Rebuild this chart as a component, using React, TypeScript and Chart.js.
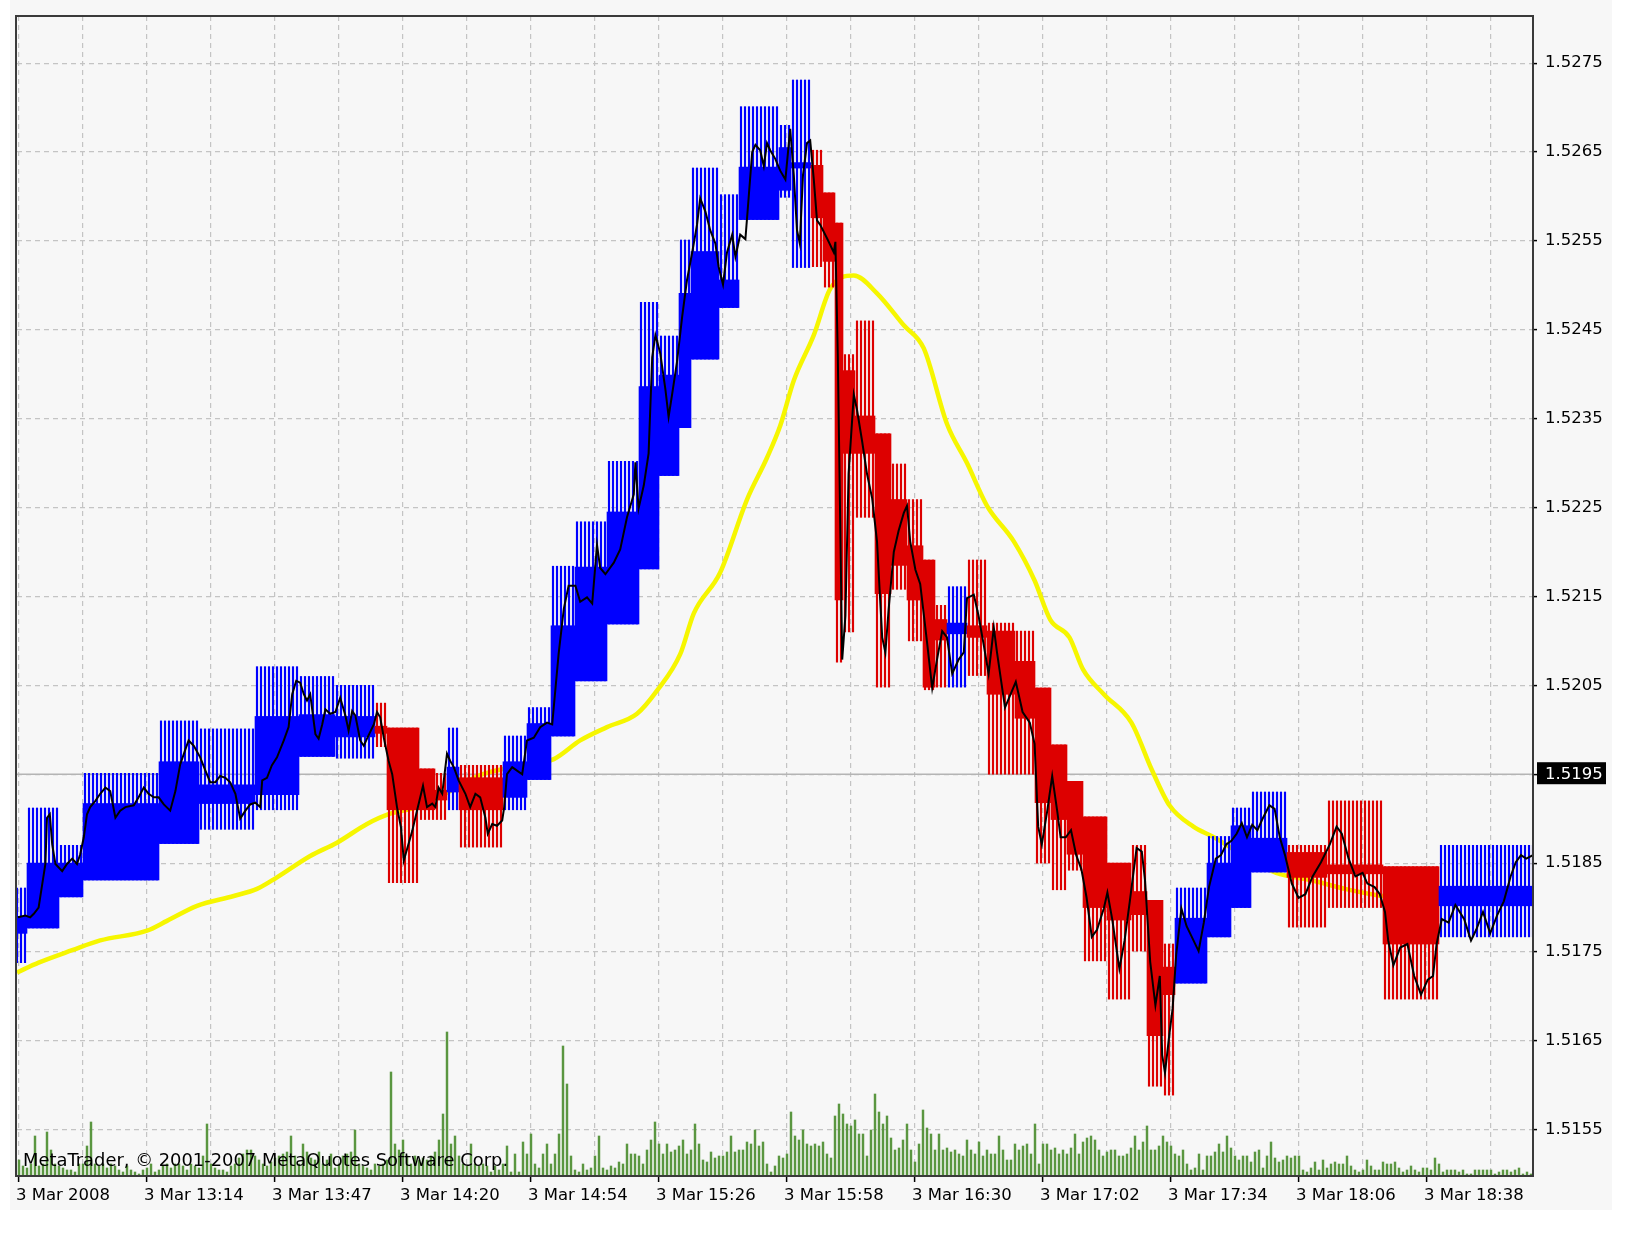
import React, { useEffect, useRef } from 'react';
import { Chart, registerables } from 'chart.js';

Chart.register(...registerables);

// ---------- axis / label data ----------
const X_LABELS = ['3 Mar 2008', '3 Mar 13:14', '3 Mar 13:47', '3 Mar 14:20', '3 Mar 14:54', '3 Mar 15:26',
  '3 Mar 15:58', '3 Mar 16:30', '3 Mar 17:02', '3 Mar 17:34', '3 Mar 18:06', '3 Mar 18:38'];
const X_LABEL_EVERY = 32; // bars between time labels
const X_GRID_EVERY = 16;  // bars between vertical grid lines
const BAR_COUNT = 379;
const Y_TICKS = [1.5155, 1.5165, 1.5175, 1.5185, 1.5195, 1.5205, 1.5215, 1.5225, 1.5235, 1.5245, 1.5255, 1.5265, 1.5275];
const Y_MIN = 1.51498;
const Y_MAX = 1.52803;
const BID = 1.5195;
const WATERMARK = 'MetaTrader, \u00A9 2001-2007 MetaQuotes Software Corp.';

// ---------- higher-timeframe boxes (bar range, open, close, high, low) ----------
const BOX_FROM = [-1, 2, 10, 16, 35, 45, 59, 70, 79, 89, 92, 100, 104, 107, 110, 121, 127, 133, 139, 147, 155, 160, 165, 168, 175, 180, 190, 193, 198, 201, 204, 206, 209, 214, 218, 222, 226, 229, 232, 237, 242, 249, 254, 258, 262, 266, 272, 278, 282, 286, 289, 297, 303, 308, 317, 327, 341, 355];
const BOX_TO = [2, 10, 16, 35, 45, 59, 70, 79, 89, 92, 100, 104, 107, 110, 121, 127, 133, 139, 147, 155, 160, 165, 168, 175, 180, 190, 193, 198, 201, 204, 206, 209, 214, 218, 222, 226, 229, 232, 237, 242, 249, 254, 258, 262, 266, 272, 278, 282, 286, 289, 297, 303, 308, 317, 327, 341, 355, 379];
const BOX_OPEN = [1.51771, 1.51777, 1.51812, 1.51831, 1.51872, 1.51917, 1.51927, 1.51970, 1.51992, 1.52004, 1.52002, 1.51956, 1.51932, 1.51930, 1.51946, 1.51924, 1.51944, 1.51993, 1.52055, 1.52119, 1.52181, 1.52286, 1.52340, 1.52417, 1.52475, 1.52574, 1.52607, 1.52632, 1.52635, 1.52604, 1.52570, 1.52404, 1.52353, 1.52333, 1.52259, 1.52207, 1.52191, 1.52124, 1.52108, 1.52117, 1.52111, 1.52077, 1.52047, 1.51983, 1.51942, 1.51902, 1.51850, 1.51818, 1.51808, 1.51733, 1.51715, 1.51767, 1.51800, 1.51840, 1.51862, 1.51848, 1.51846, 1.51802];
const BOX_CLOSE = [1.51790, 1.51850, 1.51850, 1.51917, 1.51964, 1.51938, 1.52015, 1.52017, 1.52015, 1.51996, 1.51910, 1.51910, 1.51921, 1.51958, 1.51910, 1.51964, 1.52007, 1.52117, 1.52183, 1.52245, 1.52386, 1.52399, 1.52491, 1.52538, 1.52506, 1.52633, 1.52655, 1.52638, 1.52576, 1.52527, 1.52146, 1.52311, 1.52311, 1.52153, 1.52185, 1.52146, 1.52048, 1.52101, 1.52120, 1.52104, 1.52040, 1.52013, 1.51918, 1.51899, 1.51860, 1.51800, 1.51786, 1.51792, 1.51656, 1.51702, 1.51788, 1.51850, 1.51892, 1.51878, 1.51834, 1.51838, 1.51759, 1.51824];
const BOX_HIGH = [1.51822, 1.51912, 1.51870, 1.51951, 1.52010, 1.52001, 1.52071, 1.52060, 1.52050, 1.52030, 1.52002, 1.51956, 1.51951, 1.52002, 1.51960, 1.51993, 1.52025, 1.52184, 1.52234, 1.52302, 1.52481, 1.52443, 1.52551, 1.52632, 1.52602, 1.52701, 1.52680, 1.52731, 1.52652, 1.52604, 1.52570, 1.52422, 1.52460, 1.52333, 1.52299, 1.52259, 1.52191, 1.52140, 1.52161, 1.52191, 1.52120, 1.52111, 1.52047, 1.51983, 1.51942, 1.51902, 1.51850, 1.51870, 1.51808, 1.51759, 1.51822, 1.51880, 1.51912, 1.51930, 1.51870, 1.51920, 1.51846, 1.51870];
const BOX_LOW = [1.51738, 1.51777, 1.51812, 1.51831, 1.51872, 1.51888, 1.51910, 1.51970, 1.51968, 1.51981, 1.51828, 1.51899, 1.51899, 1.51910, 1.51868, 1.51910, 1.51944, 1.51993, 1.52055, 1.52119, 1.52181, 1.52286, 1.52340, 1.52417, 1.52475, 1.52574, 1.52599, 1.52520, 1.52521, 1.52498, 1.52076, 1.52110, 1.52239, 1.52048, 1.52158, 1.52100, 1.52045, 1.52048, 1.52048, 1.52061, 1.51950, 1.51950, 1.51850, 1.51820, 1.51842, 1.51740, 1.51697, 1.51751, 1.51599, 1.51589, 1.51715, 1.51767, 1.51800, 1.51840, 1.51778, 1.51800, 1.51697, 1.51767];

// ---------- close price line (bar position, price) ----------
const CLOSE_BAR = [-0.3, 1.6, 2.8, 3.7, 4.9, 5.8, 6.6, 7.0, 7.7, 8.3, 9.1, 10.8, 12.0, 13.3, 14.5, 15.3, 16.2, 17.0, 17.8, 19.1, 20.3, 21.6, 22.8, 24.1, 25.3, 26.6, 28.7, 29.9, 31.2, 32.4, 33.7, 34.9, 36.2, 37.8, 39.1, 40.3, 41.6, 42.4, 43.7, 45.3, 46.6, 47.8, 49.1, 50.3, 51.6, 52.8, 54.1, 55.3, 56.6, 57.8, 59.1, 60.3, 60.8, 62.0, 63.2, 64.5, 66.2, 67.4, 68.3, 69.3, 70.3, 71.2, 72.0, 72.8, 74.1, 74.9, 75.8, 76.6, 77.8, 79.1, 80.3, 81.6, 82.4, 83.3, 84.1, 85.3, 86.2, 87.0, 88.7, 89.5, 90.3, 91.2, 92.4, 93.3, 94.5, 95.5, 96.2, 98.3, 99.5, 101.0, 102.0, 103.3, 104.1, 104.9, 105.8, 107.0, 107.8, 108.7, 109.9, 111.6, 112.8, 114.1, 115.3, 116.6, 117.2, 118.3, 119.5, 120.8, 121.3, 122.0, 123.3, 124.5, 125.8, 127.0, 128.7, 130.3, 132.0, 133.3, 134.9, 136.2, 137.4, 139.1, 140.3, 142.0, 143.3, 144.5, 145.3, 146.6, 148.7, 150.3, 152.0, 153.7, 154.1, 154.9, 156.2, 157.4, 158.3, 159.1, 160.3, 161.6, 162.4, 163.3, 164.5, 165.8, 167.0, 168.3, 169.5, 170.3, 171.6, 172.8, 174.1, 174.9, 176.0, 177.0, 178.3, 179.1, 180.3, 181.6, 182.4, 183.3, 184.1, 185.3, 186.2, 187.0, 187.8, 189.1, 190.3, 191.6, 192.8, 193.7, 194.5, 195.2, 196.0, 197.0, 197.8, 198.7, 199.5, 200.3, 202.0, 203.7, 204.1, 204.7, 205.8, 206.6, 207.4, 208.7, 209.5, 210.8, 212.0, 213.3, 214.5, 215.8, 216.6, 217.4, 218.7, 219.9, 221.2, 222.0, 222.8, 224.1, 225.3, 227.0, 228.3, 229.5, 230.8, 232.0, 233.3, 234.9, 236.2, 237.0, 238.7, 239.9, 241.2, 242.4, 243.7, 244.5, 246.5, 249.2, 250.9, 252.7, 253.9, 254.8, 255.7, 257.0, 258.3, 259.6, 260.4, 261.7, 263.0, 264.3, 265.6, 266.9, 268.2, 269.5, 271.2, 272.1, 273.3, 275.1, 276.4, 277.7, 279.4, 280.7, 281.5, 282.8, 284.1, 285.2, 285.8, 286.5, 287.6, 288.4, 289.3, 290.6, 291.9, 293.2, 294.9, 296.2, 297.5, 299.2, 300.5, 301.8, 303.1, 304.4, 305.7, 307.0, 308.3, 309.6, 310.8, 312.6, 313.9, 315.2, 316.5, 318.2, 319.9, 321.6, 323.4, 325.5, 327.7, 329.4, 330.7, 332.4, 334.1, 335.9, 337.1, 338.9, 340.2, 341.5, 342.3, 343.6, 345.3, 347.1, 348.8, 350.5, 352.2, 353.5, 354.4, 355.7, 357.4, 359.1, 361.3, 363.0, 364.3, 366.0, 367.8, 369.5, 371.2, 372.9, 374.2, 375.5, 376.8, 378.5];
const CLOSE_PRICE = [1.51789, 1.51791, 1.51789, 1.51793, 1.51800, 1.51826, 1.51849, 1.51901, 1.51905, 1.51871, 1.51849, 1.51841, 1.51849, 1.51855, 1.51849, 1.51860, 1.51879, 1.51905, 1.51913, 1.51920, 1.51928, 1.51935, 1.51931, 1.51901, 1.51909, 1.51913, 1.51915, 1.51924, 1.51935, 1.51928, 1.51924, 1.51924, 1.51916, 1.51909, 1.51931, 1.51961, 1.51978, 1.51988, 1.51982, 1.51969, 1.51954, 1.51941, 1.51941, 1.51948, 1.51946, 1.51941, 1.51928, 1.51900, 1.51909, 1.51916, 1.51918, 1.51913, 1.51943, 1.51946, 1.51960, 1.51969, 1.51988, 1.52003, 1.52040, 1.52055, 1.52053, 1.52040, 1.52033, 1.52040, 1.51995, 1.51990, 1.52006, 1.52023, 1.52018, 1.52020, 1.52036, 1.52016, 1.51999, 1.52021, 1.52016, 1.51988, 1.51982, 1.51990, 1.52006, 1.52020, 1.52014, 1.51991, 1.51965, 1.51950, 1.51913, 1.51890, 1.51853, 1.51886, 1.51909, 1.51937, 1.51913, 1.51917, 1.51913, 1.51935, 1.51928, 1.51973, 1.51965, 1.51958, 1.51943, 1.51928, 1.51913, 1.51928, 1.51924, 1.51901, 1.51883, 1.51894, 1.51892, 1.51898, 1.51913, 1.51950, 1.51958, 1.51954, 1.51950, 1.51988, 1.51991, 1.52003, 1.52008, 1.52006, 1.52085, 1.52136, 1.52162, 1.52162, 1.52144, 1.52149, 1.52142, 1.52208, 1.52182, 1.52175, 1.52188, 1.52203, 1.52239, 1.52265, 1.52301, 1.52249, 1.52275, 1.52311, 1.52419, 1.52444, 1.52424, 1.52383, 1.52352, 1.52378, 1.52414, 1.52465, 1.52506, 1.52537, 1.52568, 1.52598, 1.52583, 1.52562, 1.52547, 1.52521, 1.52501, 1.52537, 1.52557, 1.52532, 1.52557, 1.52552, 1.52598, 1.52650, 1.52658, 1.52652, 1.52634, 1.52660, 1.52652, 1.52642, 1.52629, 1.52619, 1.52676, 1.52624, 1.52562, 1.52547, 1.52624, 1.52660, 1.52663, 1.52619, 1.52573, 1.52568, 1.52553, 1.52537, 1.52549, 1.52421, 1.52079, 1.52128, 1.52288, 1.52377, 1.52360, 1.52324, 1.52288, 1.52260, 1.52212, 1.52104, 1.52087, 1.52135, 1.52200, 1.52224, 1.52244, 1.52252, 1.52212, 1.52180, 1.52164, 1.52099, 1.52047, 1.52079, 1.52111, 1.52104, 1.52063, 1.52079, 1.52087, 1.52148, 1.52152, 1.52128, 1.52095, 1.52063, 1.52115, 1.52087, 1.52025, 1.52054, 1.52020, 1.52008, 1.51984, 1.51891, 1.51871, 1.51907, 1.51948, 1.51907, 1.51879, 1.51879, 1.51887, 1.51859, 1.51843, 1.51811, 1.51767, 1.51775, 1.51799, 1.51817, 1.51787, 1.51731, 1.51763, 1.51807, 1.51867, 1.51863, 1.51831, 1.51739, 1.51690, 1.51723, 1.51634, 1.51614, 1.51658, 1.51686, 1.51747, 1.51799, 1.51779, 1.51767, 1.51751, 1.51783, 1.51823, 1.51855, 1.51859, 1.51871, 1.51875, 1.51883, 1.51895, 1.51879, 1.51893, 1.51887, 1.51899, 1.51915, 1.51911, 1.51879, 1.51859, 1.51827, 1.51811, 1.51815, 1.51835, 1.51851, 1.51871, 1.51891, 1.51883, 1.51855, 1.51835, 1.51839, 1.51827, 1.51823, 1.51815, 1.51795, 1.51763, 1.51735, 1.51755, 1.51759, 1.51723, 1.51702, 1.51719, 1.51723, 1.51759, 1.51787, 1.51783, 1.51803, 1.51787, 1.51763, 1.51775, 1.51795, 1.51771, 1.51791, 1.51807, 1.51835, 1.51851, 1.51859, 1.51855, 1.51859];

// ---------- moving average (bar position, price) ----------
const MA_BAR = [-0.5, 4.9, 13.3, 20.3, 32.0, 37.0, 44.5, 53.7, 59.5, 64.5, 72.8, 79.5, 87.0, 92.4, 99.5, 107.8, 115.3, 121.1, 133.7, 140.3, 147.0, 154.5, 159.5, 165.3, 168.7, 175.3, 182.0, 187.0, 190.3, 193.7, 198.7, 202.8, 208.7, 214.5, 221.2, 226.2, 232.0, 237.0, 242.0, 248.7, 253.9, 257.8, 262.6, 266.0, 271.2, 278.1, 283.2, 287.6, 293.6, 298.8, 306.3, 314.3, 322.9, 331.5, 341.0, 355.3, 378.5];
const MA_PRICE = [1.51727, 1.51738, 1.51752, 1.51763, 1.51774, 1.51785, 1.51802, 1.51813, 1.51821, 1.51834, 1.51858, 1.51873, 1.51894, 1.51905, 1.51913, 1.51931, 1.51949, 1.51956, 1.51967, 1.51988, 1.52003, 1.52018, 1.52044, 1.52085, 1.52131, 1.52177, 1.52259, 1.52306, 1.52342, 1.52393, 1.52444, 1.52496, 1.52511, 1.52491, 1.52455, 1.52429, 1.52344, 1.52300, 1.52252, 1.52212, 1.52168, 1.52124, 1.52104, 1.52068, 1.52040, 1.52008, 1.51955, 1.51915, 1.51891, 1.51879, 1.51858, 1.51839, 1.51831, 1.51821, 1.51813, 1.51810, 1.51812];

// ---------- tick volume per bar ----------
const VOLUME = [
  8, 5, 4, 6, 20, 5, 6, 22, 13, 6, 5, 4, 3,
  3, 2, 6, 6, 15, 27, 6, 5, 6, 4, 6, 5, 3, 2, 5, 3, 2, 1, 3, 4, 6, 2, 3, 5, 6, 4, 6, 6, 5, 3, 6, 5, 4,
  10, 26, 6, 4, 3, 3, 2, 5, 6, 9, 11, 13, 13, 10, 8, 6, 5, 7, 9, 10, 11, 12, 20, 10, 6, 16, 12, 9, 8, 12, 6, 8, 11, 4, 6, 10, 11, 12, 23, 6, 5, 4,
  3, 6, 5, 6, 8, 52, 16, 13, 18, 10, 6, 10, 8, 9, 8, 10, 12, 18, 31, 72, 16, 20, 10, 6, 5, 16, 6, 5, 6, 5, 2, 5, 3, 6, 15, 2, 11, 2, 17, 11, 21, 6, 4, 11, 16, 6, 11, 21, 65, 46, 10, 3, 2, 6, 3, 4, 10, 20,
  4, 3, 5, 4, 7, 6, 16, 11, 11,
  10, 6, 13, 18, 27, 16, 11, 16, 12, 13,
  15, 18, 11, 13, 26, 16, 8, 7, 12, 9,
  10, 10, 12, 20, 12, 13, 13, 17, 16, 23,
  15, 17, 6, 2, 5, 10, 9, 11, 32, 20,
  18, 23, 16, 15, 16, 15, 17, 11, 9, 30,
  36, 31, 26, 25, 28, 21, 21, 10, 23, 41,
  32, 26, 30, 19, 13, 14, 18, 26, 13, 7,
  16, 33, 24, 21, 13, 21, 13, 14, 12, 13,
  11, 10, 18, 13, 11, 17, 10, 13, 11, 11,
  20, 13, 8, 8, 16, 13, 15, 16, 11, 26,
  6, 16, 16, 13, 14, 11, 13, 11, 14, 21,
  11, 17, 19, 20, 18, 13, 10, 12, 13, 13,
  10, 10, 11, 14, 20, 13, 17, 25, 13, 13,
  15, 20, 17, 15, 11, 10, 13, 6, 3, 4,
  11, 3, 10, 10, 12, 16, 12, 20, 14, 10,
  8, 10, 10, 7, 12, 13, 4, 10, 17, 9,
  7, 8, 10, 9, 10, 10, 3, 2, 4, 7,
  3, 8, 4, 6, 7, 6, 6, 10, 5, 3,
  2, 3, 8, 5, 3, 3, 7, 6, 6, 7,
  4, 2, 3, 5, 3, 2, 4, 4, 3, 9,
  6, 2, 3, 3, 3, 2, 3, 1, 1, 3,
  3, 3, 3, 3, 1, 2, 3, 3, 2, 3,
  4, 1, 2, 1,
];
const VOLUME_AXIS_MAX = 580;

// ---------- styling ----------
const BLUE = '#0000ff';
const RED = '#dd0000';
const YELLOW = '#f6f600';
const GREEN = '#5a9640';
const GRID = '#c4c4c4';
const FONT = '"DejaVu Sans", sans-serif';

export default function App() {
  const ref = useRef<HTMLCanvasElement>(null);

  useEffect(() => {
    document.body.style.margin = '0';
    document.body.style.background = '#ffffff';
    const canvas = ref.current;
    if (!canvas) return;

    const hatch: any[] = [];
    const body: any[] = [];
    BOX_FROM.forEach((from, i) => {
      const o = BOX_OPEN[i];
      const c = BOX_CLOSE[i];
      const up = c >= o;
      for (let k = from; k < BOX_TO[i]; k++) {
        hatch.push({ x: k + 0.5, y: [BOX_LOW[i], BOX_HIGH[i]], up });
        body.push({ x: k + 0.5, y: [Math.min(o, c), Math.max(o, c)], up });
      }
    });
    const closeData = CLOSE_BAR.map((b, i) => ({ x: b, y: CLOSE_PRICE[i] }));
    const maData = MA_BAR.map((b, i) => ({ x: b, y: MA_PRICE[i] }));
    const volData = VOLUME.map((v, i) => ({ x: i, y: v }));
    const xTicks: number[] = [];
    for (let v = 0; v < BAR_COUNT; v += X_GRID_EVERY) xTicks.push(v);

    const colorOf = (ctx: any) => (ctx.raw && ctx.raw.up ? BLUE : RED);

    const decor = {
      id: 'decor',
      beforeDraw(chart: any) {
        const { ctx } = chart;
        ctx.save();
        ctx.fillStyle = '#ffffff';
        ctx.fillRect(0, 0, chart.width, chart.height);
        ctx.fillStyle = '#f7f7f7';
        ctx.fillRect(10, 0, 1602, 1210);
        ctx.restore();
      },
      afterDatasetsDraw(chart: any) {
        const { ctx, chartArea } = chart;
        ctx.save();
        ctx.font = `17.9px ${FONT}`;
        ctx.fillStyle = '#000000';
        ctx.textBaseline = 'alphabetic';
        ctx.textAlign = 'left';
        ctx.fillText(WATERMARK, chartArea.left + 6, chartArea.bottom - 10);
        ctx.restore();
      },
      afterDraw(chart: any) {
        const { ctx, chartArea: a, scales } = chart;
        ctx.save();
        ctx.strokeStyle = '#3a3a3a';
        ctx.lineWidth = 2;
        ctx.strokeRect(a.left - 1, a.top, a.right - a.left + 1, a.bottom - a.top);
        const y = scales.y.getPixelForValue(BID);
        ctx.fillStyle = '#000000';
        ctx.fillRect(a.right + 4, y - 12, 69, 22);
        ctx.fillStyle = '#ffffff';
        ctx.font = `16.5px ${FONT}`;
        ctx.textBaseline = 'middle';
        ctx.textAlign = 'left';
        ctx.fillText(BID.toFixed(4), a.right + 12, y);
        ctx.restore();
      },
    };

    const chart = new Chart(canvas, {
      type: 'bar',
      data: {
        datasets: [
          { type: 'line', label: 'Close', data: closeData, xAxisID: 'x', yAxisID: 'y', borderColor: '#000000', borderWidth: 2, pointRadius: 0, tension: 0, order: 0 },
          { type: 'bar', label: 'Body', data: body, xAxisID: 'x', yAxisID: 'y', backgroundColor: colorOf, borderWidth: 0, barThickness: 4, grouped: false, order: 1 },
          { type: 'bar', label: 'Range', data: hatch, xAxisID: 'x', yAxisID: 'y', backgroundColor: colorOf, borderWidth: 0, barThickness: 1.5, grouped: false, order: 2 },
          { type: 'line', label: 'MA', data: maData, xAxisID: 'x', yAxisID: 'y', borderColor: YELLOW, borderWidth: 4.5, pointRadius: 0, cubicInterpolationMode: 'monotone', order: 3 },
          { type: 'line', label: 'Bid', data: [{ x: -0.5, y: BID }, { x: BAR_COUNT - 0.5, y: BID }], xAxisID: 'x', yAxisID: 'y', borderColor: '#b4b4b4', borderWidth: 1.6, pointRadius: 0, order: 4 },
          { type: 'bar', label: 'Volume', data: volData, xAxisID: 'x', yAxisID: 'yVol', backgroundColor: GREEN, borderWidth: 0, barThickness: 1.8, grouped: false, order: 5 },
        ] as any,
      },
      options: {
        responsive: false,
        animation: false,
        devicePixelRatio: 1,
        events: [],
        layout: { padding: { left: 17, top: 16, right: 0, bottom: 0 } },
        plugins: { legend: { display: false }, tooltip: { enabled: false }, title: { display: false } },
        scales: {
          x: {
            type: 'linear',
            min: -0.5,
            max: BAR_COUNT - 0.5,
            offset: false,
            afterBuildTicks: (s: any) => { s.ticks = xTicks.map((v) => ({ value: v })); },
            afterFit: (s: any) => { s.height = 67; s.paddingLeft = 0; s.paddingRight = 0; },
            grid: {
              offset: false, color: GRID, lineWidth: 1.2, drawTicks: true, tickLength: 6, tickWidth: 1.5,
              tickBorderDash: [],
              tickColor: (c: any) => (c.tick && c.tick.value % X_LABEL_EVERY === 0 ? '#000000' : 'rgba(0,0,0,0)'),
            },
            border: { display: false, dash: [5, 4] },
            ticks: {
              autoSkip: false, maxRotation: 0, minRotation: 0, align: 'start', labelOffset: -3, padding: 4,
              color: '#000000', font: { family: FONT, size: 16.5 },
              callback: (v: any) => (v % X_LABEL_EVERY === 0 ? (X_LABELS[v / X_LABEL_EVERY] ?? '') : ''),
            },
          },
          y: {
            type: 'linear',
            position: 'right',
            min: Y_MIN,
            max: Y_MAX,
            beginAtZero: false,
            afterBuildTicks: (s: any) => { s.ticks = Y_TICKS.map((v) => ({ value: v })); },
            afterFit: (s: any) => { s.width = 92; s.paddingTop = 0; s.paddingBottom = 0; },
            grid: { color: GRID, lineWidth: 1.2, drawTicks: true, tickLength: 4, tickWidth: 1.5, tickColor: '#000000', tickBorderDash: [] },
            border: { display: false, dash: [5, 4] },
            ticks: { autoSkip: false, padding: 8, color: '#000000', font: { family: FONT, size: 16.5 }, callback: (v: any) => Number(v).toFixed(4) },
          },
          yVol: { type: 'linear', display: false, min: 0, max: VOLUME_AXIS_MAX },
        },
      } as any,
      plugins: [decor],
    });

    return () => chart.destroy();
  }, []);

  return <canvas ref={ref} width={1625} height={1243} style={{ display: 'block', width: 1625, height: 1243 }} />;
}
